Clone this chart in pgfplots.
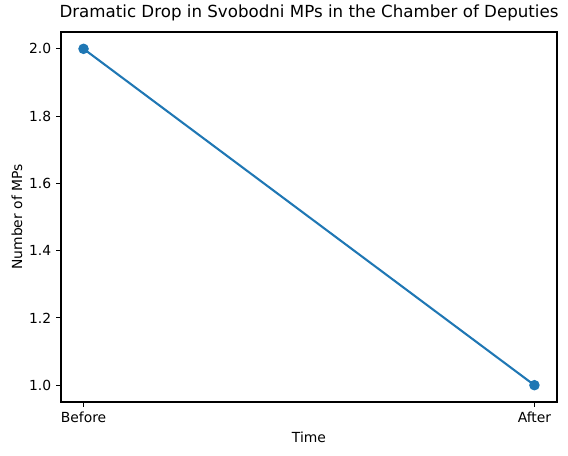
\documentclass[border=0pt]{standalone}
\usepackage{fontspec}
\setmainfont{DejaVu Sans}
\usepackage{pgfplots}
\pgfplotsset{compat=1.18}
\definecolor{mplblue}{HTML}{1F77B4}
\begin{document}
\begin{tikzpicture}
\begin{axis}[
    scale only axis,
    width=357.1pt, height=266.4pt,
    xmin=-0.05, xmax=1.05,
    ymin=0.95, ymax=2.05,
    xtick={0,1}, xticklabels={Before,After},
    ytick={1.0,1.2,1.4,1.6,1.8,2.0},
    yticklabel style={/pgf/number format/.cd,fixed,fixed zerofill,precision=1},
    /pgf/number format/assume math mode=true,
    tick align=outside,
    major tick length=3.5pt,
    tick style={black, line width=0.8pt},
    axis line style={line width=0.8pt},
    xtick pos=bottom, ytick pos=left,
    ticklabel style={font=\fontsize{10}{12}\selectfont},
    label style={font=\fontsize{10}{12}\selectfont},
    xlabel={Time}, ylabel={Number of MPs},
    xlabel style={at={(axis description cs:0.5,-0.095)}, anchor=center},
    ylabel style={at={(axis description cs:-0.089,0.5)}, anchor=center, rotate=0},
    title={Dramatic Drop in Svobodni MPs in the Chamber of Deputies},
    title style={font=\fontsize{12}{14}\selectfont, at={(axis description cs:0.5,1.030)}, anchor=center},
    clip=false,
]
\addplot[color=mplblue, line width=1.5pt, mark=*, mark size=3pt, mark options={fill=mplblue, draw=mplblue}] coordinates {
    (0,2) (1,1)
};
\end{axis}
\pgfresetboundingbox
\path (-43.92pt,-38.16pt) rectangle (365.04pt,289.44pt);
\end{tikzpicture}
\end{document}
